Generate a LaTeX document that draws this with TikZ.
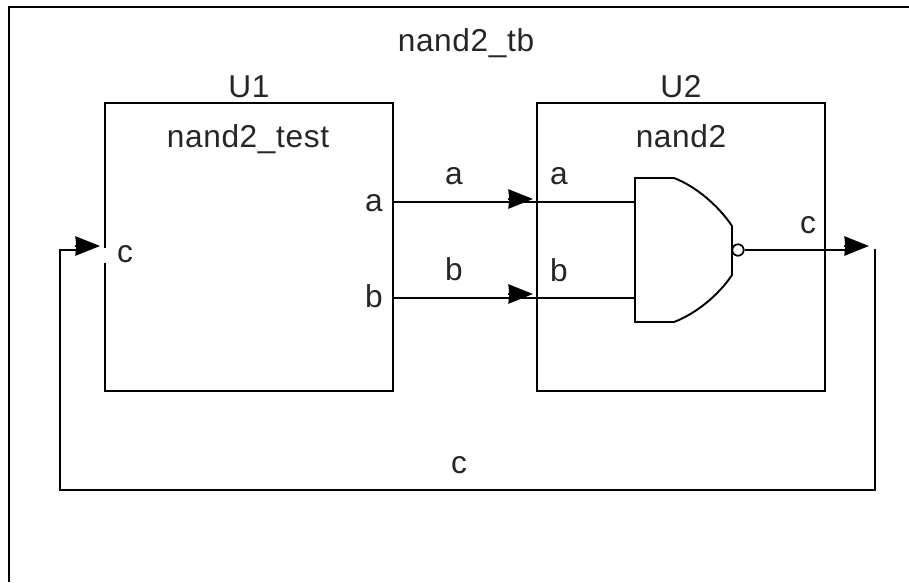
\documentclass[tikz,border=0pt]{standalone}
\usepackage{fontspec}
\setmainfont[LetterSpace=2]{Liberation Sans}
\usetikzlibrary{arrows.meta}
\tikzset{
    label/.style={inner sep=0pt,anchor=base,text=black!85,font=\fontsize{18}{20}\selectfont},
    wire/.style={line width=1.1pt},
    head/.style={wire,-{Stealth[length=14pt,width=11pt,inset=0.5pt]}}
}
\begin{document}
\begin{tikzpicture}[x=0.02cm,y=-0.02cm]
        \useasboundingbox (0,0) rectangle (909,582);
        % Frame
        \draw[wire] (9,582) -- (9,7) -- (909,7);
        \node[label] (title) at (466,51) {nand2\_tb};

        % Blocks
        \path (105,103) coordinate (U1nw) (393,391) coordinate (U1se);
        \path (537,103) coordinate (U2nw) (825,391) coordinate (U2se);
        \draw[wire] (105,248) -- (U1nw) -| (U1se) -| (105,263);
        \draw[wire] (U2nw) rectangle (U2se);
        \node[label] (U1) at (249,97) {U1};
        \node[label] (U2) at (681,97) {U2};
        \node[label] (U1name) at (248,147) {nand2\_test};
        \node[label] (U2name) at (681,147) {nand2};

        % Ports
        \node[label] (U1a) at (374,211) {a};
        \node[label] (U1b) at (374,307) {b};
        \node[label] (U1c) at (125,262) {c};
        \node[label] (U2a) at (559,184) {a};
        \node[label] (U2b) at (559,281) {b};
        \node[label] (U2c) at (808,233) {c};

        % Gate
        \draw[wire] (635,178) -- (674,178) .. controls (695,186) and (718,205) .. (732,226) -- (732,275) .. controls (718,296) and (695,314) .. (674,322) -- (635,322) -- cycle;
        \node[draw,circle,line width=1pt,minimum size=6.5pt,inner sep=0pt] (bubble) at (738,250) {};

        % Nets
        \coordinate (aout) at (393,202);
        \coordinate (ain) at (635,202);
        \coordinate (bout) at (393,298);
        \coordinate (bin) at (635,298);
        \coordinate (cnet) at (850,250);
        \coordinate (cturn) at (875,249);
        \coordinate (cback) at (80,250);
        \draw[wire] (aout) -- (ain);
        \draw[wire] (bout) -- (bin);
        \draw[wire] (bubble) -- (cnet);
        \draw[wire] (cturn) -- (875,490) -- (60,490) -- (60,250) -- (cback);

        % Arrowheads
        \coordinate (atip) at (533,199);
        \coordinate (btip) at (533,294);
        \coordinate (ctip) at (869,246);
        \coordinate (dtip) at (100,246);
        \foreach \tip in {atip,btip,ctip,dtip}
            \draw[head] ([xshift=-14pt]\tip) -- (\tip);

        \node[label] (neta) at (454,184) {a};
        \node[label] (netb) at (454,280) {b};
        \node[label] (netc) at (459,473) {c};
    \end{tikzpicture}
\end{document}
